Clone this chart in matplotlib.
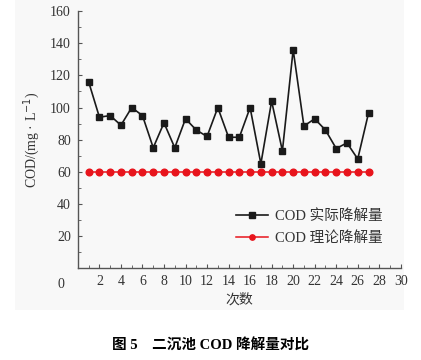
import matplotlib.pyplot as plt
from matplotlib.patches import Rectangle
from matplotlib.ticker import MultipleLocator

runs = list(range(1, 28))
actual = [116, 94, 95, 89, 100, 95, 75, 90.5, 75, 93, 86, 82, 100, 81.5, 81.5,
          100, 65, 104, 73, 136, 88.5, 93, 86, 74.5, 78, 68, 96.5]
theory = [60] * 27

serif = ['Liberation Serif', 'Noto Sans CJK SC']
cjk = ['Noto Sans CJK SC', 'Liberation Serif']

fig = plt.figure(figsize=(4.21, 3.6), dpi=100)
fig.patches.append(Rectangle((0.035, 0.14), 0.925, 0.86, transform=fig.transFigure,
                             facecolor='#f8f8f8', edgecolor='none', zorder=-10))
ax = fig.add_axes([0.185, 0.255, 0.767, 0.714])
ax.patch.set_alpha(0)

ax.plot(runs, actual, color='#1a1a1a', lw=1.2, marker='s', ms=5,
        mfc='#1a1a1a', mec='#1a1a1a', label='COD 实际降解量')
ax.plot(runs, theory, color='#e8141c', lw=1.1, marker='o', ms=4.8,
        mfc='#e8141c', mec='#e8141c', label='COD 理论降解量')

ax.set_xlim(0, 30)
ax.set_ylim(0, 160)
ax.set_xticks(range(2, 31, 2))
ax.set_yticks(range(20, 161, 20))
ax.xaxis.set_minor_locator(MultipleLocator(1))
ax.yaxis.set_minor_locator(MultipleLocator(10))
ax.tick_params(which='both', direction='in', color='#555555', labelsize=10, pad=5)
ax.tick_params(which='major', length=3)
ax.tick_params(which='minor', length=2)
for lab in ax.get_xticklabels() + ax.get_yticklabels():
    lab.set_family(serif)
    lab.set_color('#333333')
ax.text(-1.3, -6, '0', ha='right', va='top', family=serif, fontsize=10, color='#333333')

for s in ['top', 'right']:
    ax.spines[s].set_visible(False)
for s in ['left', 'bottom']:
    ax.spines[s].set_color('#555555')
    ax.spines[s].set_linewidth(1.0)

ax.set_xlabel('次数', family=cjk, fontsize=10, color='#333333', labelpad=3)
ax.set_ylabel('COD/(mg · L$^{-1}$)', family=serif, fontsize=10, color='#333333', labelpad=6)

leg = ax.legend(loc='lower right', bbox_to_anchor=(0.985, 0.04), frameon=False,
                prop={'family': serif, 'size': 10.5}, handlelength=2.2,
                handletextpad=0.5, labelspacing=0.55, markerscale=0.8)
for t in leg.get_texts():
    t.set_color('#333333')

fig.text(0.5, 0.04, '图 5    二沉池 COD 降解量对比', ha='center', va='center',
         family=serif, fontsize=10.5, fontweight='bold')

fig.savefig('out.png', dpi=100)
